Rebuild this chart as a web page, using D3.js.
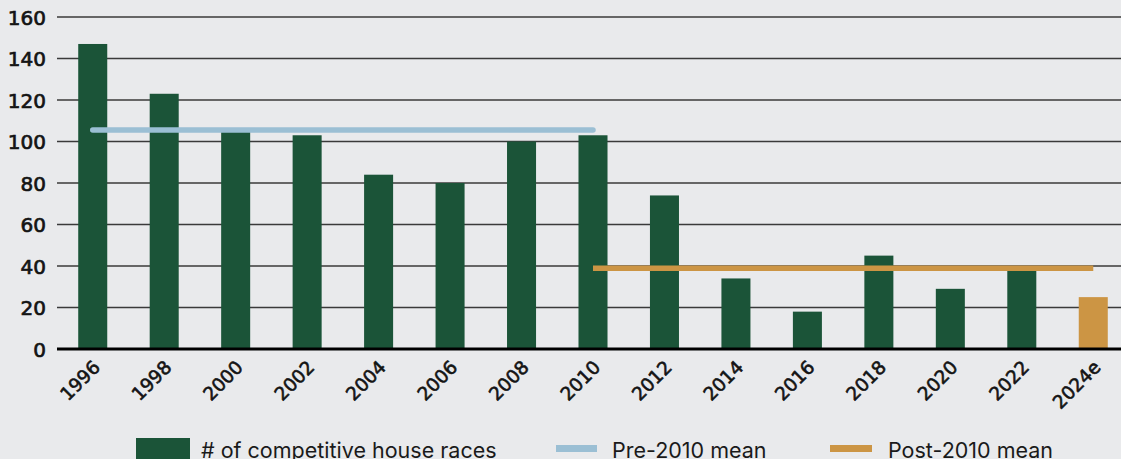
<!DOCTYPE html>
<html><head><meta charset="utf-8">
<script src="https://cdn.jsdelivr.net/npm/d3@7"></script>
<style>
html,body{margin:0;padding:0;background:#e9eaec;}
svg{display:block;font-family:"DejaVu Sans", sans-serif;}
</style></head>
<body>
<svg id="chart" width="1121" height="459"></svg>
<script>
const years = ["1996","1998","2000","2002","2004","2006","2008","2010","2012","2014","2016","2018","2020","2022","2024e"];
const races = [147,123,105,103,84,80,100,103,74,34,18,45,29,39,25];
const estimated = [false,false,false,false,false,false,false,false,false,false,false,false,false,false,true];
const preYears = ["1996","1998","2000","2002","2004","2006","2008","2010"];
const preMean = [105.6,105.6,105.6,105.6,105.6,105.6,105.6,105.6];
const postYears = ["2010","2012","2014","2016","2018","2020","2022","2024e"];
const postMean = [38.9,38.9,38.9,38.9,38.9,38.9,38.9,38.9];
const yTicks = [0,20,40,60,80,100,120,140,160];
const legendLabels = ["# of competitive house races","Pre-2010 mean","Post-2010 mean"];

const svg = d3.select("#chart");
const left = 57, right = 1121, plotRight = 1129;
const x = d3.scaleBand().domain(years).range([left, plotRight]).paddingInner(0.594).paddingOuter(0.297);
const y = d3.scaleLinear().domain([0,160]).range([349, 17]);

const green = "#1b5438", blue = "#9bbfd4", orange = "#cc9544";
const ink = "#141414";

// y axis labels
const yAxis = d3.axisLeft(y).tickValues(yTicks).tickSize(0).tickPadding(12);
const gy = svg.append("g").attr("transform", `translate(${left},0)`).call(yAxis);
gy.select(".domain").remove();
gy.selectAll("text").attr("font-family","DejaVu Sans").attr("font-size", 20).attr("fill", ink)
  .attr("stroke", ink).attr("stroke-width", 0.7).attr("x", -11).attr("dy","0.36em");
// gridlines
svg.append("g").selectAll("line").data(yTicks.filter(d=>d>0)).join("line")
  .attr("x1", left).attr("x2", right).attr("y1", d=>y(d)).attr("y2", d=>y(d))
  .attr("stroke", "#3a3a3a").attr("stroke-width", 1.6);

// bars
svg.append("g").selectAll("rect").data(years).join("rect")
  .attr("x", d=>x(d)).attr("width", x.bandwidth())
  .attr("y", (d,i)=>y(races[i])).attr("height", (d,i)=>y(0)-y(races[i]))
  .attr("fill", (d,i)=>estimated[i] ? orange : green);

// baseline
svg.append("line").attr("x1", left).attr("x2", right).attr("y1", y(0)).attr("y2", y(0))
  .attr("stroke", "#000").attr("stroke-width", 3);

// mean lines
const cx = d => x(d) + x.bandwidth()/2;
const line = d3.line().x(d=>cx(d[0])).y(d=>y(d[1]));
svg.append("path").datum(preYears.map((d,i)=>[d,preMean[i]])).attr("d", line)
  .attr("fill","none").attr("stroke", blue).attr("stroke-width", 5.5).attr("stroke-linecap","round");
svg.append("path").datum(postYears.map((d,i)=>[d,postMean[i]])).attr("d", line)
  .attr("fill","none").attr("stroke", orange).attr("stroke-width", 5.5).attr("stroke-linecap","butt");

// x labels
const xAxis = d3.axisBottom(x).tickSize(0).tickPadding(0);
const gx = svg.append("g").attr("transform", `translate(0,${y(0)})`).call(xAxis);
gx.select(".domain").remove();
gx.selectAll("text").attr("font-family","DejaVu Sans").attr("font-size", 18.5).attr("fill", ink)
  .attr("stroke", ink).attr("stroke-width", 0.6)
  .attr("text-anchor","end").attr("dy", null).attr("y", 0)
  .attr("transform", "translate(5,16) rotate(-45)").attr("dominant-baseline","middle");

// legend
const lg = svg.append("g").attr("font-size", 21.5).attr("font-family","Inter").attr("fill", "#1a1a1a");
lg.append("rect").attr("x",136).attr("y",438).attr("width",54).attr("height",22).attr("fill",green);
lg.append("text").attr("x",201).attr("y",458).text(legendLabels[0]);
lg.append("rect").attr("x",556).attr("y",445).attr("width",41).attr("height",7).attr("fill",blue);
lg.append("text").attr("x",612).attr("y",458).text(legendLabels[1]);
lg.append("rect").attr("x",830).attr("y",445).attr("width",42).attr("height",7).attr("fill",orange);
lg.append("text").attr("x",888).attr("y",458).text(legendLabels[2]);
</script>
</body></html>
